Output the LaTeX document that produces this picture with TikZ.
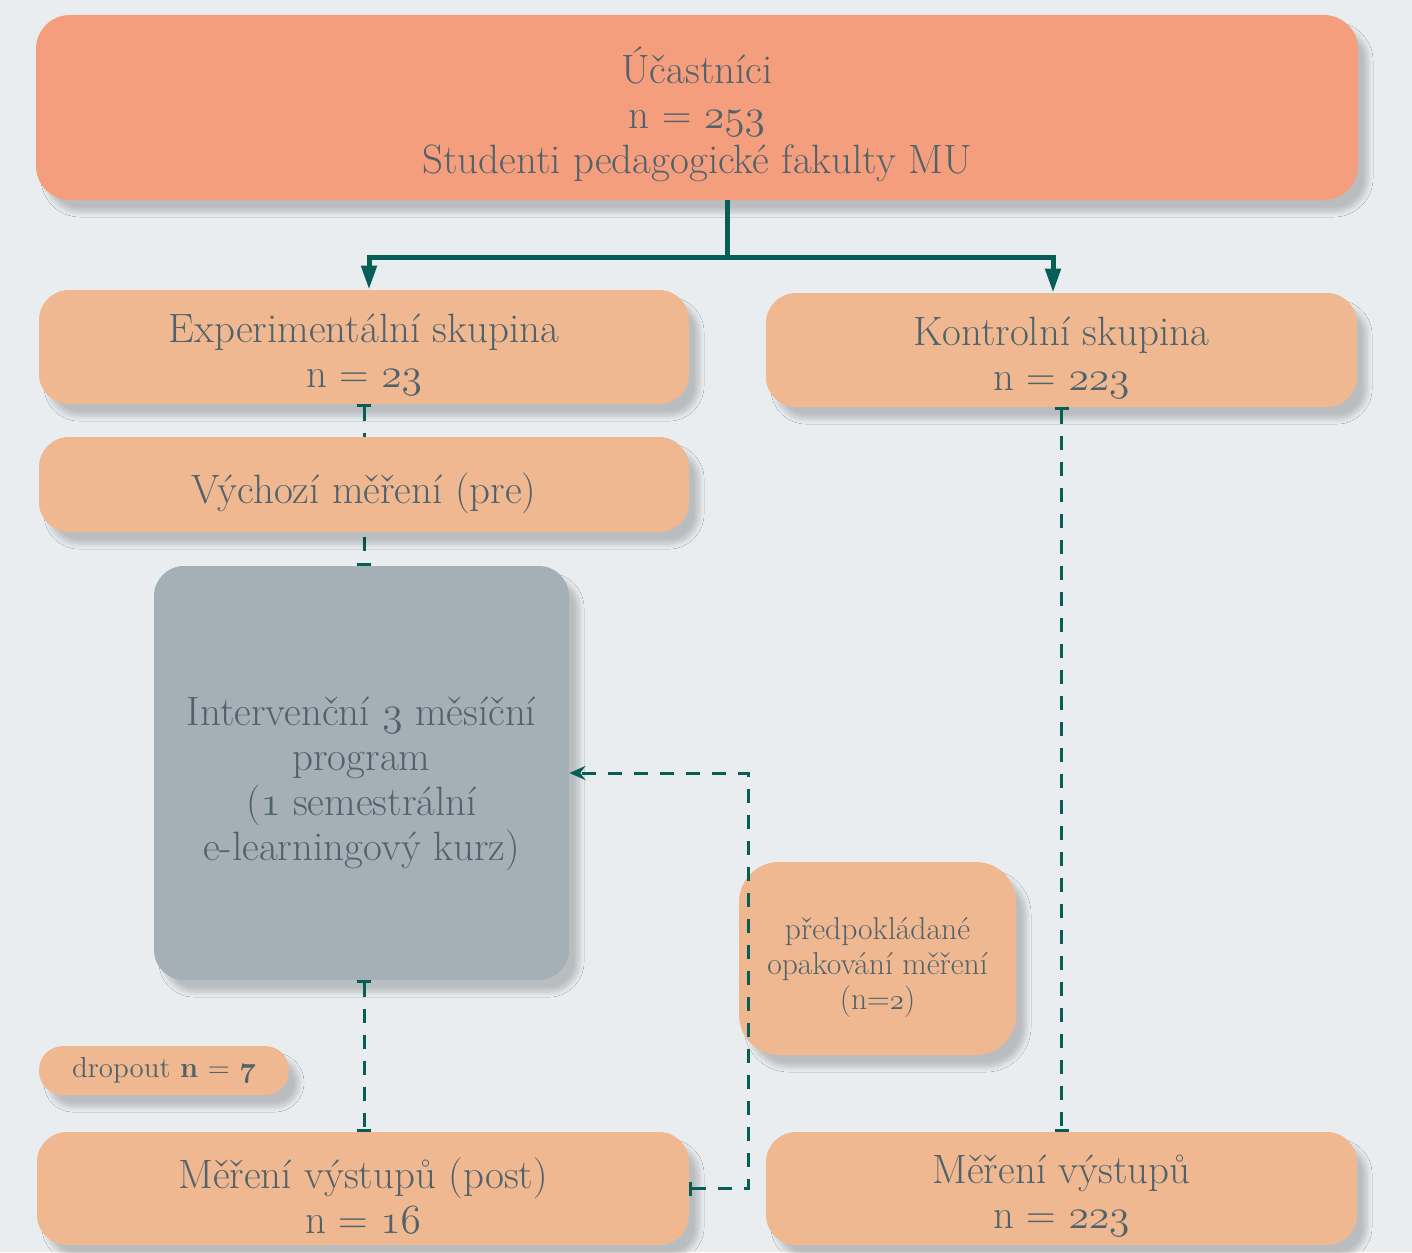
\documentclass[tikz,border=0pt]{standalone}
\usepackage{fontspec}
\usetikzlibrary{arrows.meta,shadows,shadows.blur}
\definecolor{bgc}{HTML}{E9EDF0}
\definecolor{salmon}{HTML}{F59E7E}
\definecolor{peach}{HTML}{F0B890}
\definecolor{slate}{HTML}{A5B0B6}
\definecolor{teal}{HTML}{075E56}
\definecolor{txt}{HTML}{50636C}
\newcommand\osn[1]{{\fontencoding{OML}\fontfamily{cmm}\fontseries{m}\fontshape{it}\selectfont #1}}
\newcommand\osnb[1]{{\fontencoding{OML}\fontfamily{cmm}\fontseries{b}\fontshape{it}\selectfont #1}}
\tikzset{
  bartip/.tip={Bar[width=7pt,line width=1.5pt]},
  headtip/.tip={Stealth[width=7pt,length=8pt]},
  maintip/.tip={Triangle[width=7.5pt,length=12pt]},
}
\begin{document}
\begin{tikzpicture}[x=0.5pt,y=-0.5pt,
  box/.style={rounded corners=15pt, inner sep=0pt,
    blur shadow={shadow xshift=5pt, shadow yshift=-6pt, shadow blur steps=8, shadow blur radius=2.5pt, shadow opacity=20}},
  peachbox/.style={box, fill=peach},
  lbl/.style={text=txt, align=center, inner sep=0pt, font=\fontsize{20.5}{22.5}\selectfont},
  small/.style={lbl, font=\fontsize{15.8}{17.5}\selectfont},
  mainline/.style={draw=teal, line width=2.5pt, line join=miter},
  dashline/.style={draw=teal, line width=1.5pt, dash pattern=on 7pt off 6pt},
]
\useasboundingbox[fill=bgc] (0,0) rectangle (1412,1252);

% boxes
\node[box, fill=salmon, rounded corners=17pt, minimum width=661pt, minimum height=92.5pt] (top) at (697,107.5) {};
\node[peachbox, minimum width=325pt, minimum height=57pt] (exp) at (364,347) {};
\node[peachbox, minimum width=295.5pt, minimum height=57pt] (kon) at (1061.5,350) {};
\node[box, fill=slate, minimum width=207.5pt, minimum height=207pt] (int) at (361.5,773) {};
\node[peachbox, rounded corners=20pt, minimum width=138.5pt, minimum height=96.5pt] (pred) at (877.5,958.5) {};
\node[peachbox, rounded corners=12pt, minimum width=125pt, minimum height=24.5pt] (drop) at (164,1070.5) {};
\node[peachbox, minimum width=326pt, minimum height=56.5pt] (post) at (363,1188.5) {};
\node[peachbox, minimum width=295.5pt, minimum height=56.5pt] (meas) at (1061.5,1188.5) {};

% texts
\node[lbl] (top-t) at (697,114) {Účastníci\\ n = \osn{253}\\ Studenti pedagogické fakulty MU};
\node[lbl] (exp-t) at (364,355) {Experimentální skupina\\ n = \osn{23}};
\node[lbl] (kon-t) at (1061.5,357.5) {Kontrolní skupina\\ n = \osn{223}};
\node[lbl] (int-t) at (361.5,784) {Intervenční \osn{3} měsíční\\ program\\ (\osn{1} semestrální\\ e-learningový kurz)};
\node[small] (pred-t) at (877.5,967.5) {předpokládané\\ opakování měření\\ (n=\osn{2})};
\node[small, font=\fontsize{14.5}{16}\selectfont] (drop-t) at (164,1070.5) {dropout \textbf{n} = \osnb{7}};
\node[lbl] (post-t) at (363,1196) {Měření výstupů (post)\\ n = \osn{16}};
\node[lbl] (meas-t) at (1061.5,1196) {Měření výstupů\\ n = \osn{223}};

% main split connector
\coordinate (j) at (727,257);
\coordinate (jl) at (369,257);
\coordinate (jr) at (1053,257);
\draw[mainline] (top.south -| j) -- (j);
\draw[mainline, -maintip] (j) -- (jl) -- (jl |- exp.north);
\draw[mainline, -maintip] (j) -- (jr) -- (jr |- kon.north);

% dashed connectors
\draw[dashline, bartip-bartip] (exp.south) -- (exp.south |- int.north);
\draw[dashline, bartip-bartip] (int.south -| exp.south) -- (exp.south |- post.north);
\draw[dashline, bartip-bartip] (kon.south) -- (meas.north);
\coordinate (r1) at (748,1188.5);
\coordinate (r2) at (748,773);
\draw[dashline, bartip-headtip] (post.east) -- (r1) -- (r2) -- (int.east);

% box drawn over the exp-int connector
\node[peachbox, minimum width=325pt, minimum height=47.5pt] (vych) at (364,484.5) {};
\node[lbl] (vych-t) at (364,493) {Výchozí měření (pre)};
\end{tikzpicture}
\end{document}
